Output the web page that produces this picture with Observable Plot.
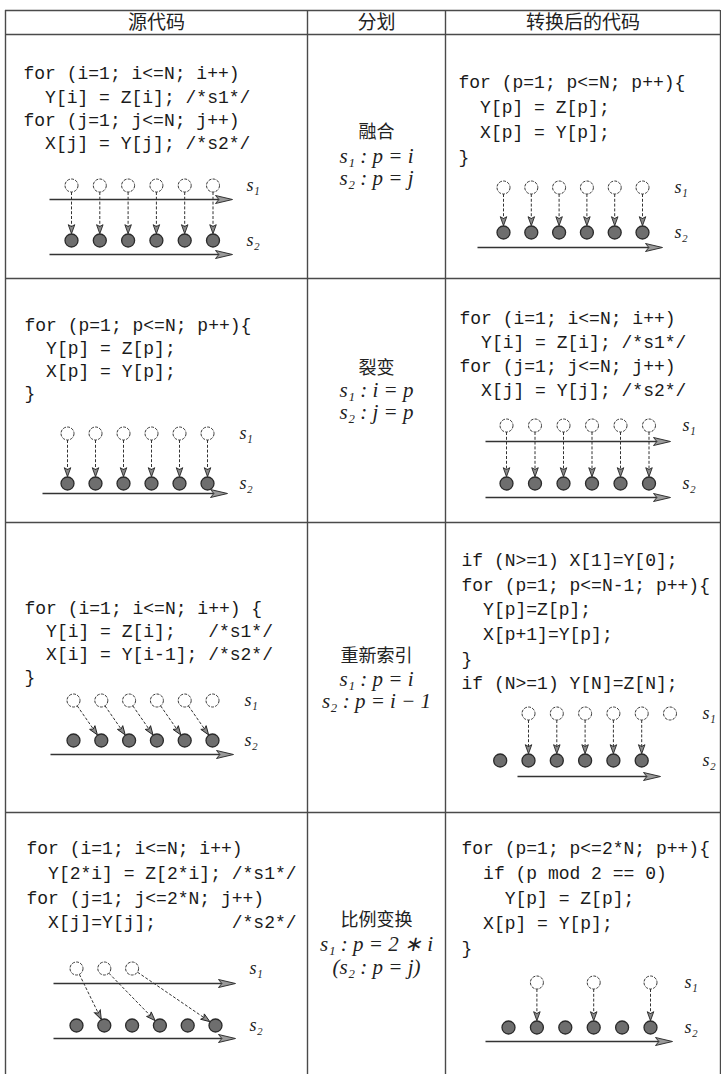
<!DOCTYPE html>
<html><head><meta charset="utf-8">
<script src="https://cdn.jsdelivr.net/npm/d3@7"></script>
<script src="https://cdn.jsdelivr.net/npm/@observablehq/plot@0.6"></script>
<style>
html,body{margin:0;padding:0;background:#fff;}
#chart svg text{white-space:pre;}
</style></head><body><div id="chart"></div>
<script>
// ---------- content ----------
const headers = ["源代码", "分划", "转换后的代码"];
const transformNames = ["融合", "裂变", "重新索引", "比例变换"];
const partitionS1 = ["s₁ : p = i", "s₁ : i = p", "s₁ : p = i", "s₁ : p = 2 ∗ i"];
const partitionS2 = ["s₂ : p = j", "s₂ : j = p", "s₂ : p = i − 1", "(s₂ : p = j)"];
const sourceCode = [
  ["for (i=1; i<=N; i++)", "  Y[i] = Z[i]; /*s1*/", "for (j=1; j<=N; j++)", "  X[j] = Y[j]; /*s2*/"],
  ["for (p=1; p<=N; p++){", "  Y[p] = Z[p];", "  X[p] = Y[p];", "}"],
  ["for (i=1; i<=N; i++) {", "  Y[i] = Z[i];   /*s1*/", "  X[i] = Y[i-1]; /*s2*/", "}"],
  ["for (i=1; i<=N; i++)", "  Y[2*i] = Z[2*i]; /*s1*/", "for (j=1; j<=2*N; j++)", "  X[j]=Y[j];       /*s2*/"]
];
const transformedCode = [
  ["for (p=1; p<=N; p++){", "  Y[p] = Z[p];", "  X[p] = Y[p];", "}"],
  ["for (i=1; i<=N; i++)", "  Y[i] = Z[i]; /*s1*/", "for (j=1; j<=N; j++)", "  X[j] = Y[j]; /*s2*/"],
  ["if (N>=1) X[1]=Y[0];", "for (p=1; p<=N-1; p++){", "  Y[p]=Z[p];", "  X[p+1]=Y[p];", "}", "if (N>=1) Y[N]=Z[N];"],
  ["for (p=1; p<=2*N; p++){", "  if (p mod 2 == 0)", "    Y[p] = Z[p];", "  X[p] = Y[p];", "}"]
];
// diagrams, cell order: r1 source, r1 result, r2 source, r2 result, ...
const openSlots = [[1,2,3,4,5,6],[1,2,3,4,5,6],[1,2,3,4,5,6],[1,2,3,4,5,6],[1,2,3,4,5,6],[1,2,3,4,5,6],[1,2,3],[2,4,6]];
const filledSlots = [[1,2,3,4,5,6],[1,2,3,4,5,6],[1,2,3,4,5,6],[1,2,3,4,5,6],[1,2,3,4,5,6],[0,1,2,3,4,5],[1,2,3,4,5,6],[1,2,3,4,5,6]];
const dependenceEdges = [
  [[1,1],[2,2],[3,3],[4,4],[5,5],[6,6]],
  [[1,1],[2,2],[3,3],[4,4],[5,5],[6,6]],
  [[1,1],[2,2],[3,3],[4,4],[5,5],[6,6]],
  [[1,1],[2,2],[3,3],[4,4],[5,5],[6,6]],
  [[1,2],[2,3],[3,4],[4,5],[5,6]],
  [[1,1],[2,2],[3,3],[4,4],[5,5]],
  [[1,2],[2,4],[3,6]],
  [[2,2],[4,4],[6,6]]
];
const axisRows = [["s1","s2"],["s2"],["s2"],["s1","s2"],["s2"],["s2"],["s1","s2"],["s2"]];
const levelLabels = ["s₁", "s₂"];

// ---------- layout ----------
const W = 721, H = 1074;
const colX = [5, 307, 445, 720];
const rowY = [10, 34, 278, 522, 812, 1074];
const headerY = 22;
const middleY = [[132,156,178],[368,390,412],[656,679,701],[920,944,967]];
const codeLayout = [
  {x:23,y0:73,lh:23.3},{x:458,y0:82,lh:25},
  {x:24,y0:325,lh:22.7},{x:459,y0:318,lh:24},
  {x:24,y0:608,lh:23},{x:461,y0:560,lh:24.6},
  {x:26,y0:848,lh:24.7},{x:461,y0:848,lh:25}
];
const diagramLayout = [
  {x1:71, dx:28.3, yo:185, yf:240, a1:199, a2:254, ax0:49, ax1:232, lx:246},
  {x1:503, dx:27.8, yo:187, yf:232, a2:247, ax0:477, ax1:662, lx:674},
  {x1:67, dx:28, yo:433, yf:483, a2:493, ax0:42, ax1:227, lx:239},
  {x1:506, dx:28.5, yo:425, yf:483, a1:441, a2:497, ax0:485, ax1:670, lx:682},
  {x1:73, dx:27.8, yo:700, yf:740, a2:754, ax0:50, ax1:233, lx:244},
  {x1:528, dx:28.3, yo:713, yf:760, a2:776, ax0:517, ax1:660, lx:702},
  {x1:76, dx:27.8, yo:968, yf:1025, a1:983, a2:1038, ax0:53, ax1:235, lx:249},
  {x1:508, dx:28.4, yo:982, yf:1027, a2:1041, ax0:485, ax1:672, lx:684}
];
const R = 6.5;

// ---------- build tables for marks ----------
const hLines = rowY.slice(0, 5).map(y => ({y, x1: colX[0], x2: colX[3]}));
const vLines = colX.map(x => ({x, y1: rowY[0], y2: rowY[5]}));
const headerText = headers.map((t, i) => ({x: (colX[i] + colX[i+1]) / 2, y: headerY, t}));
const midX = (colX[1] + colX[2]) / 2;
const nameText = transformNames.map((t, r) => ({x: midX, y: middleY[r][0], t}));
const mathText = [];
partitionS1.forEach((t, r) => mathText.push({x: midX, y: middleY[r][1], t}));
partitionS2.forEach((t, r) => mathText.push({x: midX, y: middleY[r][2], t}));
const codeText = [];
for (let r = 0; r < 4; r++) {
  [sourceCode[r], transformedCode[r]].forEach((lines, side) => {
    const L = codeLayout[r * 2 + side];
    lines.forEach((t, k) => codeText.push({x: L.x, y: L.y0 + k * L.lh, t}));
  });
}
const slotX = (L, s) => L.x1 + (s - 1) * L.dx;
const openPts = [], filledPts = [], edgeSegs = [], edgeHeads = [], axisSegs = [], axisHeads = [], labels = [];
diagramLayout.forEach((L, c) => {
  openSlots[c].forEach(s => openPts.push({x: slotX(L, s), y: L.yo}));
  filledSlots[c].forEach(s => filledPts.push({x: slotX(L, s), y: L.yf}));
  dependenceEdges[c].forEach(([a, b]) => {
    const x0 = slotX(L, a), y0 = L.yo, x1 = slotX(L, b), y1 = L.yf;
    const dx = x1 - x0, dy = y1 - y0, len = Math.hypot(dx, dy), ux = dx / len, uy = dy / len;
    const ex = x1 - ux * (R + 0.3), ey = y1 - uy * (R + 0.3);
    edgeSegs.push({x1: x0 + ux * R, y1: y0 + uy * R, x2: ex - ux * 4, y2: ey - uy * 4});
    edgeHeads.push({x: ex, y: ey, angle: Math.atan2(ux, -uy) * 180 / Math.PI});
  });
  axisRows[c].forEach(k => {
    const y = k === "s1" ? L.a1 : L.a2;
    axisSegs.push({x1: L.ax0, x2: L.ax1 - 4, y});
    axisHeads.push({x: L.ax1, y, angle: 90});
  });
  labels.push({x: L.lx, y: L.yo, t: levelLabels[0]}, {x: L.lx, y: L.yf, t: levelLabels[1]});
});

const headSymbol = (len, wid) => ({
  draw(ctx) { ctx.moveTo(0, 0); ctx.lineTo(wid / 2, len); ctx.lineTo(0, len * 0.8); ctx.lineTo(-wid / 2, len); ctx.closePath(); }
});
const nb = s => s.replace(/ /g, "\u00A0");

const chart = Plot.plot({
  width: W, height: H, margin: 0,
  x: {domain: [0, W], range: [0, W], axis: null},
  y: {domain: [0, H], range: [0, H], axis: null},
  style: {background: "#fff"},
  marks: [
    Plot.ruleY(hLines, {y: "y", x1: "x1", x2: "x2", stroke: "#4a4a4a", strokeWidth: 1.4}),
    Plot.ruleX(vLines, {x: "x", y1: "y1", y2: "y2", stroke: "#4a4a4a", strokeWidth: 1.4}),
    Plot.text(headerText, {x: "x", y: "y", text: "t", fontFamily: "Noto Sans CJK SC", fontSize: 19, fill: "#222"}),
    Plot.text(nameText, {x: "x", y: "y", text: "t", fontFamily: "Noto Sans CJK SC", fontSize: 18, fill: "#222"}),
    Plot.text(mathText, {x: "x", y: "y", text: "t", fontFamily: "Liberation Serif", fontStyle: "italic", fontSize: 21, fill: "#222"}),
    Plot.text(codeText, {x: "x", y: "y", text: d => nb(d.t), textAnchor: "start", fontFamily: "Liberation Mono", fontSize: 18, fill: "#1a1a1a"}),
    Plot.link(axisSegs, {x1: "x1", x2: "x2", y1: "y", y2: "y", stroke: "#333", strokeWidth: 1.7}),
    Plot.dot(axisHeads, {x: "x", y: "y", rotate: "angle", r: 5, symbol: headSymbol(17, 8), fill: "#9a9a9a", stroke: "#333", strokeWidth: 1}),
    Plot.link(edgeSegs, {x1: "x1", y1: "y1", x2: "x2", y2: "y2", stroke: "#333", strokeWidth: 1, strokeDasharray: "3,1.8"}),
    Plot.dot(edgeHeads, {x: "x", y: "y", rotate: "angle", r: 4, symbol: headSymbol(9, 6.5), fill: "#8a8a8a", stroke: "#222", strokeWidth: 0.9}),
    Plot.dot(openPts, {x: "x", y: "y", r: R, fill: "#fff", stroke: "#3a3a3a", strokeWidth: 1, strokeDasharray: "3,1.2"}),
    Plot.dot(filledPts, {x: "x", y: "y", r: R, fill: "#6e6e6e", stroke: "#2a2a2a", strokeWidth: 1.3}),
    Plot.text(labels, {x: "x", y: "y", text: "t", textAnchor: "start", fontFamily: "Liberation Serif", fontStyle: "italic", fontSize: 18, fill: "#222"})
  ]
});
document.getElementById("chart").appendChild(chart);
</script>
</body></html>
